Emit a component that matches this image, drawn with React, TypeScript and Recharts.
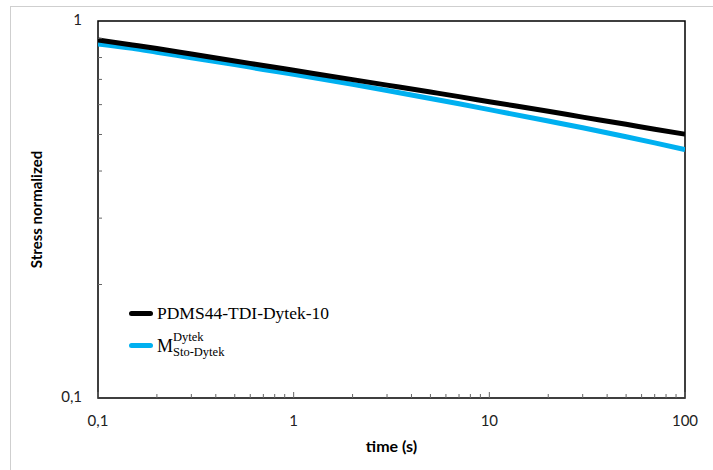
import * as Recharts from 'recharts';

const LineChart = Recharts.LineChart as unknown as React.FC<any>;
const Line = Recharts.Line as unknown as React.FC<any>;
const XAxis = Recharts.XAxis as unknown as React.FC<any>;
const YAxis = Recharts.YAxis as unknown as React.FC<any>;
const ReferenceArea = Recharts.ReferenceArea as unknown as React.FC<any>;

// time (s)
const TIMES = [0.1, 0.15, 0.2, 0.3, 0.5, 0.7, 1, 2, 3, 5, 7, 10, 20, 30, 50, 70, 100];
// measured, PDMS44-TDI-Dytek-10
const PDMS = [0.891, 0.864, 0.845, 0.817, 0.783, 0.762, 0.74, 0.699, 0.676, 0.648, 0.63, 0.611, 0.576, 0.556, 0.532, 0.516, 0.501];
// model M Sto-Dytek
const MODEL = [0.869, 0.846, 0.826, 0.799, 0.766, 0.744, 0.722, 0.679, 0.654, 0.623, 0.603, 0.582, 0.543, 0.521, 0.493, 0.475, 0.456];

const X_MAJOR = [0.1, 1, 10, 100];
const X_MINOR = [0.2, 0.3, 0.4, 0.5, 0.6, 0.7, 0.8, 0.9, 2, 3, 4, 5, 6, 7, 8, 9, 20, 30, 40, 50, 60, 70, 80, 90];
const Y_MAJOR = [0.1, 1];
const Y_MINOR = [0.2, 0.3, 0.4, 0.5, 0.6, 0.7, 0.8, 0.9];

const data = TIMES.map((t, i) => ({ t, pdms: PDMS[i], model: MODEL[i] }));

const fmt = (v: number) => String(v).replace('.', ',');
const TICK_FONT = 'Lato, "Open Sans", sans-serif';

const XTick = ({ x, y, payload }: any) => {
  const v = payload.value;
  const major = X_MAJOR.includes(v);
  return (
    <g>
      <line x1={x} x2={x} y1={y} y2={y - (major ? 6 : 4)} stroke="#666" strokeWidth={1} />
      {major && (
        <text x={x} y={y + 24} textAnchor="middle" dominantBaseline="middle" fontSize={15} fill="#222" fontFamily={TICK_FONT}>
          {fmt(v)}
        </text>
      )}
    </g>
  );
};

const YTick = ({ x, y, payload }: any) => {
  const v = payload.value;
  const major = Y_MAJOR.includes(v);
  return (
    <g>
      {!major && <line x1={x} x2={x + 4} y1={y} y2={y} stroke="#666" strokeWidth={1} />}
      {major && (
        <text x={x - 16} y={y} textAnchor="end" dominantBaseline="middle" fontSize={15} fill="#222" fontFamily={TICK_FONT}>
          {fmt(v)}
        </text>
      )}
    </g>
  );
};

export default function App() {
  return (
    <div style={{ position: 'absolute', left: 0, top: 0, width: 713, height: 470, background: '#fff', overflow: 'hidden' }}>
      <div style={{ position: 'absolute', left: 10, top: 6, width: 800, height: 600, border: '1.5px solid #cfcfcf' }} />
      <div style={{ position: 'absolute', left: 0, top: 0 }}>
        <LineChart width={713} height={470} data={data} margin={{ top: 21, right: 28, bottom: 12, left: 0 }}>
          <XAxis
            dataKey="t"
            type="number"
            scale="log"
            domain={[0.1, 100]}
            allowDataOverflow
            ticks={[...X_MAJOR, ...X_MINOR]}
            interval={0}
            tick={<XTick />}
            tickSize={0}
            tickMargin={0}
            tickLine={false}
            axisLine={false}
            height={60}
            label={{ value: 'time (s)', position: 'insideBottom', offset: 6, style: { fontFamily: TICK_FONT, fontWeight: 700, fontSize: 16, fill: '#000' } }}
          />
          <YAxis
            type="number"
            scale="log"
            domain={[0.1, 1]}
            allowDataOverflow
            ticks={[...Y_MAJOR, ...Y_MINOR]}
            interval={0}
            tick={<YTick />}
            tickSize={0}
            tickMargin={0}
            tickLine={false}
            axisLine={false}
            width={98}
            label={{ value: 'Stress normalized', angle: -90, position: 'center', dx: -12, style: { fontFamily: TICK_FONT, fontWeight: 700, fontSize: 15, fill: '#000', textAnchor: 'middle' } }}
          />
          <ReferenceArea x1={0.1} x2={100} y1={0.1} y2={1} fill="none" stroke="#000" strokeWidth={1.5} ifOverflow="visible" />
          <Line dataKey="model" type="monotone" stroke="#00B0F0" strokeWidth={5} dot={false} isAnimationActive={false} />
          <Line dataKey="pdms" type="monotone" stroke="#000" strokeWidth={5} dot={false} isAnimationActive={false} />
        </LineChart>
      </div>
      <div style={{ position: 'absolute', left: 129, top: 300, fontFamily: '"Liberation Serif", "Times New Roman", serif', color: '#000' }}>
        <div style={{ position: 'absolute', left: 0, top: 11, width: 24, height: 5, borderRadius: 3, background: '#000' }} />
        <div style={{ position: 'absolute', left: 28, top: 3, fontSize: 17.5, whiteSpace: 'nowrap', lineHeight: '20px' }}>PDMS44-TDI-Dytek-10</div>
        <div style={{ position: 'absolute', left: 0, top: 43, width: 24, height: 5, borderRadius: 3, background: '#00B0F0' }} />
        <div style={{ position: 'absolute', left: 28, top: 36, fontSize: 18, lineHeight: '20px', whiteSpace: 'nowrap' }}>M</div>
        <div style={{ position: 'absolute', left: 44, top: 31, fontSize: 12.5, lineHeight: '13px', whiteSpace: 'nowrap' }}>Dytek</div>
        <div style={{ position: 'absolute', left: 44, top: 46, fontSize: 12.5, lineHeight: '13px', whiteSpace: 'nowrap' }}>Sto-Dytek</div>
      </div>
    </div>
  );
}
